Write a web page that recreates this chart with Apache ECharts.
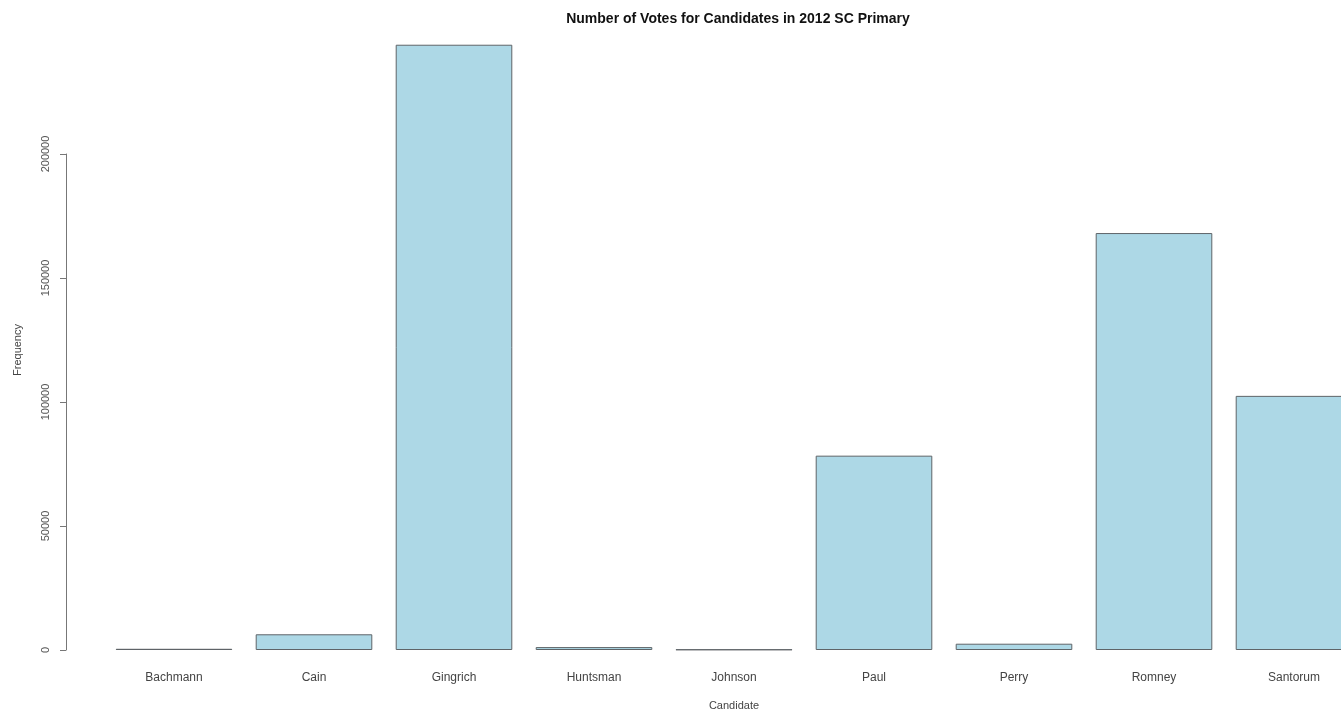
<!DOCTYPE html>
<html>
<head>
<meta charset="utf-8">
<script src="https://cdn.jsdelivr.net/npm/echarts@6/dist/echarts.min.js"></script>
<style>
  html, body { margin: 0; padding: 0; background: #fff; overflow: hidden; }
  /* the plot region runs past the right edge of the page, so the last bar is cut off */
  #wrap { width: 1341px; height: 712px; overflow: hidden; }
  #chart { width: 1380px; height: 712px; }
</style>
</head>
<body>
<div id="wrap"><div id="chart"></div></div>
<script>
// Votes per candidate, 2012 South Carolina Republican primary
const candidates = ['Bachmann', 'Cain', 'Gingrich', 'Huntsman', 'Johnson', 'Paul', 'Perry', 'Romney', 'Santorum'];
const votes = [491, 6338, 244065, 1173, 211, 78360, 2534, 168123, 102475];
const yTicks = [0, 50000, 100000, 150000, 200000];

const chart = echarts.init(document.getElementById('chart'), null, { renderer: 'canvas' });

const FONT = '"Liberation Sans", Arial, sans-serif';

chart.setOption({
  animation: false,
  backgroundColor: '#ffffff',
  title: {
    text: 'Number of Votes for Candidates in 2012 SC Primary',
    left: 733,
    textAlign: 'center',
    top: 7,
    textStyle: { fontFamily: FONT, fontSize: 14, fontWeight: 'bold', color: '#111' }
  },
  grid: { left: 104, width: 1260, top: 154, bottom: 62, containLabel: false },
  xAxis: {
    type: 'category',
    data: candidates,
    axisLine: { show: false },
    axisTick: { show: false },
    axisLabel: { margin: 22, fontFamily: FONT, fontSize: 12, color: '#444', interval: 0 }
  },
  yAxis: {
    type: 'value',
    min: yTicks[0],
    max: yTicks[yTicks.length - 1],
    interval: 50000,
    offset: 38,
    splitLine: { show: false },
    axisLine: { show: true, lineStyle: { color: '#777', width: 1 } },
    axisTick: { show: true, length: 6, lineStyle: { color: '#777' } },
    axisLabel: {
      rotate: 90, margin: 15, fontFamily: FONT, fontSize: 11, color: '#555',
      formatter: v => String(v)
    }
  },
  graphic: [
    {
      type: 'text',
      x: 18, y: 350,
      rotation: Math.PI / 2,
      style: { text: 'Frequency', fontFamily: FONT, fontSize: 11, fill: '#444', align: 'center', verticalAlign: 'middle' }
    },
    {
      type: 'text',
      x: 734, y: 706,
      style: { text: 'Candidate', fontFamily: FONT, fontSize: 11, fill: '#444', align: 'center', verticalAlign: 'middle' }
    }
  ],
  series: [{
    type: 'bar',
    data: votes,
    clip: false,
    barCategoryGap: '16.7%',
    itemStyle: { color: '#ADD8E6', borderColor: '#5f6468', borderWidth: 1 }
  }]
});
</script>
</body>
</html>
